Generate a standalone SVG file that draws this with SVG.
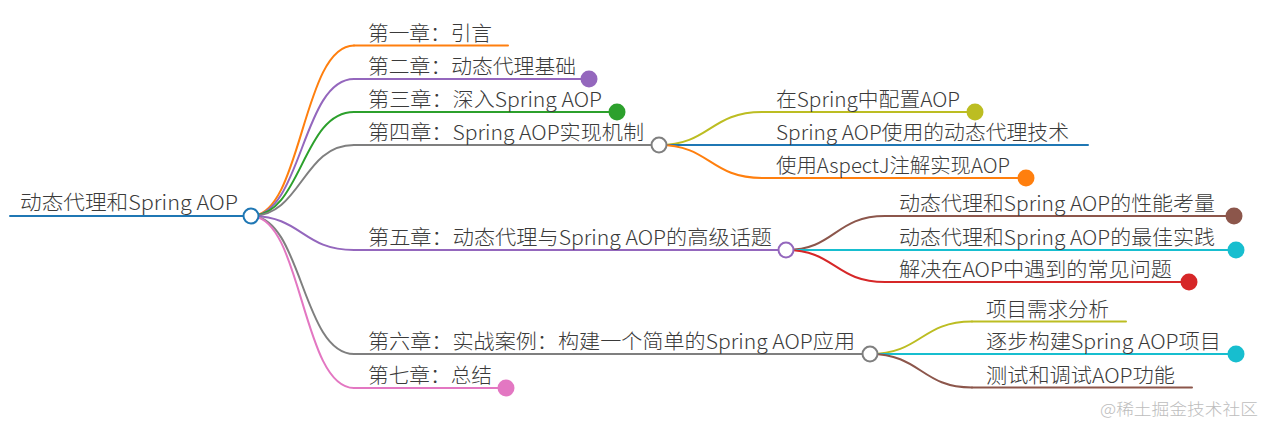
<svg xmlns="http://www.w3.org/2000/svg" width="1266" height="426" viewBox="0 0 1266 426">
<style>
text{font-family:"Noto Sans CJK SC","Noto Sans",sans-serif;font-size:20.5px;font-weight:300;fill:#3a3a3a;}
.wm{font-size:16px;fill:#bdbdbd;}
path{fill:none;stroke-width:2;stroke-linecap:round;}
.open{fill:#fff;stroke-width:2;}
</style>
<rect width="1266" height="426" fill="#fff"/>
<g id="connectors">
<path d="M251,216 C302,216 302,45.5 354,45.5" stroke="#ff7f0e"/>
<path d="M251,216 C302,216 302,79 354,79" stroke="#9467bd"/>
<path d="M251,216 C302,216 302,112 354,112" stroke="#2ca02c"/>
<path d="M251,216 C302,216 302,145 354,145" stroke="#7f7f7f"/>
<path d="M251,216 C302,216 302,250 354,250" stroke="#9467bd"/>
<path d="M251,216 C302,216 302,354 354,354" stroke="#7f7f7f"/>
<path d="M251,216 C302,216 302,388 354,388" stroke="#e377c2"/>
<path d="M659,145 C710,145 710,112 762,112" stroke="#bcbd22"/>
<path d="M659,145 L762,145" stroke="#1f77b4"/>
<path d="M659,145 C710,145 710,178 762,178" stroke="#ff7f0e"/>
<path d="M786,250 C835,250 835,216 885,216" stroke="#8c564b"/>
<path d="M786,250 L885,250" stroke="#17becf"/>
<path d="M786,250 C835,250 835,282 885,282" stroke="#d62728"/>
<path d="M870,354 C921,354 921,321.5 972,321.5" stroke="#bcbd22"/>
<path d="M870,354 L972,354" stroke="#17becf"/>
<path d="M870,354 C921,354 921,387.5 972,387.5" stroke="#8c564b"/>
</g>
<g id="root">
<path d="M10,216 H251" stroke="#1f77b4" stroke-width="3"/>
<text x="20" y="210" textLength="218" lengthAdjust="spacingAndGlyphs">动态代理和Spring AOP</text>
<circle cx="251" cy="216" r="7.5" class="open" stroke="#1f77b4"/>
</g>
<g id="ch1">
<path d="M354,45.5 H508" stroke="#ff7f0e"/>
<text x="368" y="40.5" textLength="124" lengthAdjust="spacingAndGlyphs">第一章：引言</text>
</g>
<g id="ch2">
<path d="M354,79 H589" stroke="#9467bd"/>
<text x="368" y="74" textLength="208" lengthAdjust="spacingAndGlyphs">第二章：动态代理基础</text>
<circle cx="589" cy="79" r="8.5" fill="#9467bd"/>
</g>
<g id="ch3">
<path d="M354,112 H617" stroke="#2ca02c"/>
<text x="368" y="107" textLength="234" lengthAdjust="spacingAndGlyphs">第三章：深入Spring AOP</text>
<circle cx="617" cy="112" r="8.5" fill="#2ca02c"/>
</g>
<g id="ch4">
<path d="M354,145 H659" stroke="#7f7f7f"/>
<text x="368" y="140" textLength="276" lengthAdjust="spacingAndGlyphs">第四章：Spring AOP实现机制</text>
<circle cx="659" cy="145" r="7.5" class="open" stroke="#7f7f7f"/>
</g>
<g id="ch4-1">
<path d="M762,112 H975" stroke="#bcbd22"/>
<text x="776" y="107" textLength="184" lengthAdjust="spacingAndGlyphs">在Spring中配置AOP</text>
<circle cx="975" cy="112" r="8.5" fill="#bcbd22"/>
</g>
<g id="ch4-2">
<path d="M762,145 H1088" stroke="#1f77b4"/>
<text x="776" y="140" textLength="293" lengthAdjust="spacingAndGlyphs">Spring AOP使用的动态代理技术</text>
</g>
<g id="ch4-3">
<path d="M762,178 H1026" stroke="#ff7f0e"/>
<text x="776" y="173" textLength="234" lengthAdjust="spacingAndGlyphs">使用AspectJ注解实现AOP</text>
<circle cx="1026" cy="178" r="8.5" fill="#ff7f0e"/>
</g>
<g id="ch5">
<path d="M354,250 H786" stroke="#9467bd"/>
<text x="368" y="245" textLength="404" lengthAdjust="spacingAndGlyphs">第五章：动态代理与Spring AOP的高级话题</text>
<circle cx="786" cy="250" r="7.5" class="open" stroke="#9467bd"/>
</g>
<g id="ch5-1">
<path d="M885,216 H1234" stroke="#8c564b"/>
<text x="899" y="211" textLength="316" lengthAdjust="spacingAndGlyphs">动态代理和Spring AOP的性能考量</text>
<circle cx="1234" cy="216" r="8.5" fill="#8c564b"/>
</g>
<g id="ch5-2">
<path d="M885,250 H1236" stroke="#17becf"/>
<text x="899" y="245" textLength="316" lengthAdjust="spacingAndGlyphs">动态代理和Spring AOP的最佳实践</text>
<circle cx="1236" cy="250" r="8.5" fill="#17becf"/>
</g>
<g id="ch5-3">
<path d="M885,282 H1189" stroke="#d62728"/>
<text x="899" y="277" textLength="273" lengthAdjust="spacingAndGlyphs">解决在AOP中遇到的常见问题</text>
<circle cx="1189" cy="282" r="8.5" fill="#d62728"/>
</g>
<g id="ch6">
<path d="M354,354 H870" stroke="#7f7f7f"/>
<text x="368" y="349" textLength="487" lengthAdjust="spacingAndGlyphs">第六章：实战案例：构建一个简单的Spring AOP应用</text>
<circle cx="870" cy="354" r="7.5" class="open" stroke="#7f7f7f"/>
</g>
<g id="ch6-1">
<path d="M972,321.5 H1126" stroke="#bcbd22"/>
<text x="986" y="316.5" textLength="123" lengthAdjust="spacingAndGlyphs">项目需求分析</text>
</g>
<g id="ch6-2">
<path d="M972,354 H1236" stroke="#17becf"/>
<text x="986" y="349" textLength="235" lengthAdjust="spacingAndGlyphs">逐步构建Spring AOP项目</text>
<circle cx="1236" cy="354" r="8.5" fill="#17becf"/>
</g>
<g id="ch6-3">
<path d="M972,387.5 H1192" stroke="#8c564b"/>
<text x="986" y="382.5" textLength="189" lengthAdjust="spacingAndGlyphs">测试和调试AOP功能</text>
</g>
<g id="ch7">
<path d="M354,388 H506" stroke="#e377c2"/>
<text x="368" y="383" textLength="124" lengthAdjust="spacingAndGlyphs">第七章：总结</text>
<circle cx="506" cy="388" r="8.5" fill="#e377c2"/>
</g>
<text class="wm" x="1100" y="415" textLength="158" lengthAdjust="spacingAndGlyphs">@稀土掘金技术社区</text>
</svg>
